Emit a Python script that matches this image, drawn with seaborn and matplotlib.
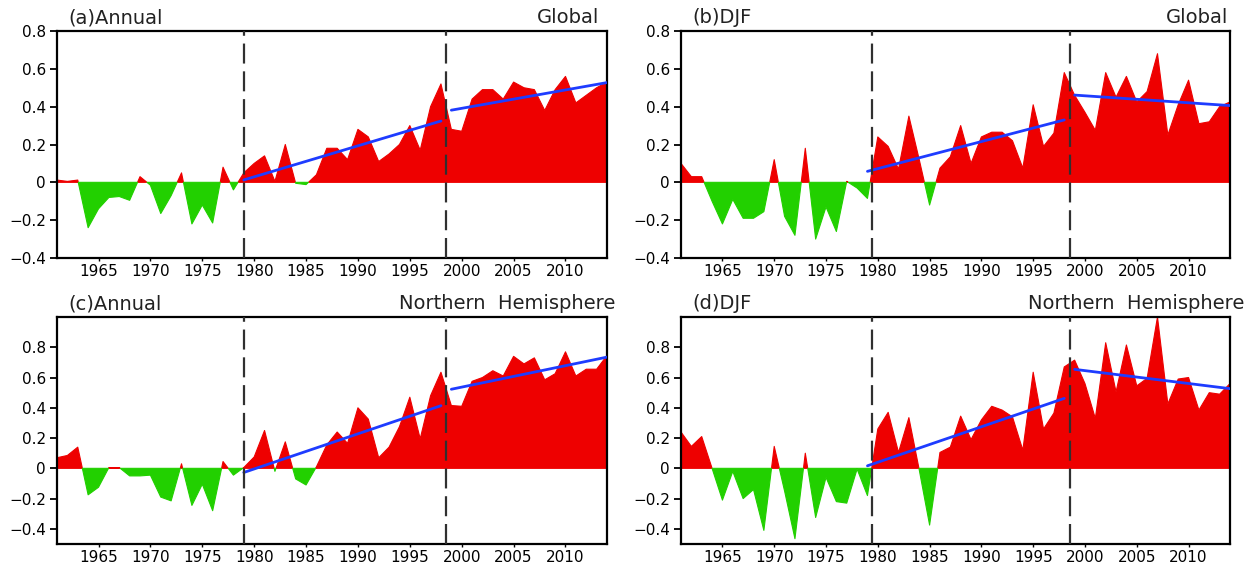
import numpy as np
import pandas as pd
import matplotlib
matplotlib.use("Agg")
import matplotlib.pyplot as plt
import seaborn as sns

years = list(range(1961, 2015))

annual_global = [0.012, 0.005, 0.012, -0.24, -0.14, -0.08, -0.075, -0.095, 0.03, -0.015,
                 -0.165, -0.07, 0.05, -0.22, -0.12, -0.215, 0.08, -0.04, 0.05, 0.10,
                 0.14, 0.005, 0.20, -0.005, -0.012, 0.04, 0.18, 0.18, 0.12, 0.28,
                 0.24, 0.11, 0.15, 0.20, 0.30, 0.17, 0.40, 0.52, 0.28, 0.27,
                 0.44, 0.49, 0.49, 0.44, 0.53, 0.50, 0.49, 0.38, 0.49, 0.56,
                 0.42, 0.46, 0.50, 0.53]

djf_global = [0.10, 0.03, 0.03, -0.10, -0.22, -0.09, -0.19, -0.19, -0.155, 0.12,
              -0.18, -0.28, 0.18, -0.30, -0.13, -0.26, 0.005, -0.03, -0.085, 0.24,
              0.19, 0.07, 0.35, 0.12, -0.12, 0.075, 0.135, 0.30, 0.10, 0.24,
              0.265, 0.265, 0.22, 0.075, 0.41, 0.19, 0.26, 0.58, 0.46, 0.37,
              0.275, 0.58, 0.45, 0.56, 0.425, 0.48, 0.68, 0.25, 0.41, 0.54,
              0.31, 0.32, 0.40, 0.425]

annual_nh = [0.07, 0.085, 0.14, -0.175, -0.125, 0.005, 0.005, -0.05, -0.05, -0.045,
             -0.19, -0.215, 0.03, -0.245, -0.105, -0.28, 0.045, -0.045, 0.005, 0.075,
             0.25, -0.02, 0.175, -0.07, -0.11, 0.01, 0.155, 0.24, 0.165, 0.40,
             0.325, 0.07, 0.14, 0.275, 0.47, 0.195, 0.48, 0.635, 0.415, 0.41,
             0.575, 0.60, 0.645, 0.61, 0.74, 0.69, 0.73, 0.585, 0.625, 0.77,
             0.61, 0.655, 0.655, 0.745]

djf_nh = [0.24, 0.145, 0.21, 0.0, -0.21, -0.02, -0.20, -0.14, -0.41, 0.145,
          -0.15, -0.465, 0.10, -0.325, -0.06, -0.22, -0.23, -0.005, -0.18, 0.26,
          0.37, 0.105, 0.335, -0.01, -0.375, 0.105, 0.14, 0.345, 0.19, 0.32,
          0.41, 0.385, 0.34, 0.12, 0.635, 0.26, 0.365, 0.67, 0.715, 0.56,
          0.33, 0.83, 0.505, 0.815, 0.545, 0.595, 1.00, 0.425, 0.59, 0.60,
          0.385, 0.50, 0.49, 0.56]

left_titles = ["(a)Annual", "(b)DJF", "(c)Annual", "(d)DJF"]
right_titles = ["Global", "Global", "Northern  Hemisphere", "Northern  Hemisphere"]
series = [annual_global, djf_global, annual_nh, djf_nh]
breaks = [(1979, 1998.5), (1979.4, 1998.6), (1979, 1998.5), (1979.4, 1998.6)]
periods = [(1979, 1998), (1999, 2014)]
xticks = [1965, 1970, 1975, 1980, 1985, 1990, 1995, 2000, 2005, 2010]

sns.set_style("ticks")
plt.rcParams["font.family"] = ["DejaVu Sans"]

RED = "#EE0000"
GREEN = "#22D000"
BLUE = "#1E3CFF"

W, H = 1257, 566
fig = plt.figure(figsize=(W / 100, H / 100), dpi=100)

# axes boxes in pixels: left, top, right, bottom
boxes = [(57, 31, 607, 258), (681, 31, 1230, 258),
         (57, 317, 607, 544), (681, 317, 1230, 544)]
ylims = [(-0.4, 0.8), (-0.4, 0.8), (-0.5, 1.0), (-0.5, 1.0)]
right_x = [0.985, 0.996, 1.015, 1.027]

for i in range(4):
    l, t, r, b = boxes[i]
    ax = fig.add_axes([l / W, 1 - b / H, (r - l) / W, (b - t) / H])
    df = pd.DataFrame({"year": years, "value": series[i]})
    x = df["year"].to_numpy(dtype=float)
    y = df["value"].to_numpy(dtype=float)
    ax.fill_between(x, 0, y, where=y >= 0, interpolate=True, color=RED, lw=0.8, edgecolor=RED)
    ax.fill_between(x, 0, y, where=y <= 0, interpolate=True, color=GREEN, lw=0.8, edgecolor=GREEN)
    for (p0, p1) in periods:
        sub = df[(df["year"] >= p0) & (df["year"] <= p1)]
        sns.regplot(data=sub, x="year", y="value", ax=ax, scatter=False, ci=None,
                    truncate=True, line_kws=dict(color=BLUE, lw=2.0, zorder=4))
    for bx in breaks[i]:
        ax.axvline(bx, color="#303030", lw=1.6, dashes=(9, 3.5), zorder=5)
    ax.set_xlim(1961, 2014)
    ax.set_ylim(*ylims[i])
    ax.set_yticks([-0.4, -0.2, 0, 0.2, 0.4, 0.6, 0.8])
    ax.set_yticklabels(["\u22120.4", "\u22120.2", "0", "0.2", "0.4", "0.6", "0.8"])
    ax.set_xticks(xticks)
    ax.set_xticklabels([str(v) for v in xticks])
    ax.set_xlabel("")
    ax.set_ylabel("")
    for s in ax.spines.values():
        s.set_visible(True)
        s.set_linewidth(1.6)
        s.set_color("black")
    ax.tick_params(axis="y", direction="out", length=5, width=1.3,
                   labelsize=11, colors="black", pad=3)
    ax.tick_params(axis="x", direction="out", length=2.5, width=1.0,
                   labelsize=11, colors="black", pad=1.5)
    ax.text(0.02, 1.035, left_titles[i], transform=ax.transAxes, fontsize=14,
            ha="left", va="baseline", color="#222222")
    ax.text(right_x[i], 1.035, right_titles[i], transform=ax.transAxes, fontsize=14,
            ha="right", va="baseline", color="#222222")

fig.savefig("out.png", dpi=100)
